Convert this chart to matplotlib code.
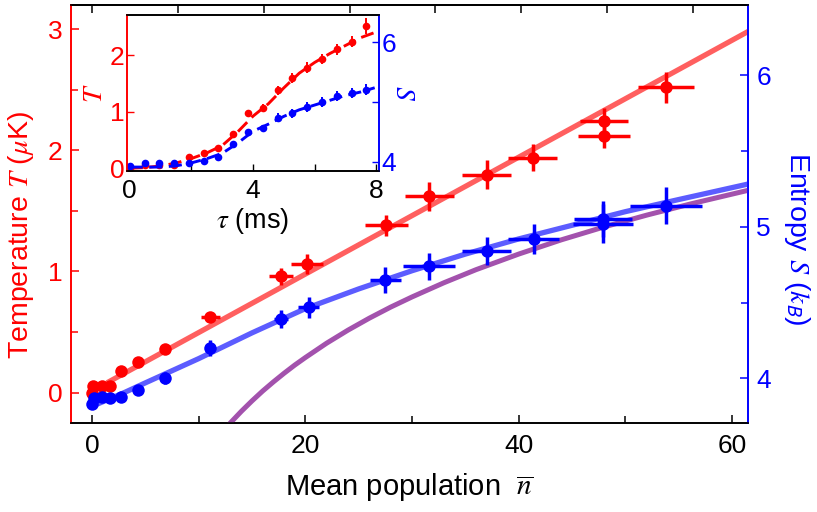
import matplotlib
matplotlib.use("Agg")
import matplotlib.pyplot as plt
from matplotlib.ticker import MultipleLocator, NullFormatter

plt.rcParams["font.family"] = ["Liberation Sans", "DejaVu Sans"]
plt.rcParams["mathtext.fontset"] = "stix"

RED = "#ff0000"
BLUE = "#0000ff"
RED_FIT = "#ff5f5f"
BLUE_FIT = "#5c5cff"
PURPLE = "#a352ad"

# --- main panel: temperature vs mean population ---
n_T = [0.0, 0.1, 0.9, 1.7, 2.7, 4.3, 6.8, 11.1, 17.7, 20.2, 27.6, 31.6, 37.0, 41.3, 48.0, 48.0, 53.8]
T = [0.0, 0.05, 0.05, 0.05, 0.18, 0.25, 0.36, 0.62, 0.96, 1.06, 1.38, 1.62, 1.80, 1.94, 2.12, 2.24, 2.52]
n_T_err = [0.1, 0.1, 0.1, 0.15, 0.2, 0.3, 0.4, 0.9, 1.15, 1.5, 2.0, 2.3, 2.3, 2.3, 2.4, 2.25, 2.6]
T_err = [0.02, 0.02, 0.02, 0.02, 0.02, 0.03, 0.03, 0.03, 0.07, 0.08, 0.09, 0.12, 0.12, 0.11, 0.1, 0.11, 0.13]

# --- main panel: entropy vs mean population ---
n_S = [0.0, 0.2, 0.9, 1.7, 2.7, 4.3, 6.8, 11.1, 17.7, 20.3, 27.5, 31.6, 37.0, 41.4, 47.9, 47.9, 53.8]
S = [3.83, 3.87, 3.88, 3.87, 3.88, 3.92, 4.00, 4.20, 4.39, 4.47, 4.65, 4.74, 4.84, 4.92, 5.02, 5.05, 5.14]
n_S_err = [0.1, 0.1, 0.1, 0.15, 0.2, 0.3, 0.4, 0.3, 0.65, 1.0, 1.45, 2.4, 2.3, 2.4, 2.8, 2.7, 3.4]
S_err = [0.03, 0.03, 0.03, 0.03, 0.03, 0.03, 0.04, 0.055, 0.06, 0.07, 0.086, 0.09, 0.09, 0.1, 0.13, 0.12, 0.12]

# fit curves
T_fit_n = [1.4, 62.0]
T_fit = [0.08, 3.005]
S_fit_n = [0.5, 3, 5, 7.5, 10, 12.5, 15, 17.5, 20, 22.5, 25, 27.5, 30, 35, 40, 45, 50, 55, 62]
S_fit = [3.83, 3.905, 3.97, 4.05, 4.13, 4.215, 4.30, 4.38, 4.46, 4.525, 4.59, 4.65, 4.71, 4.82, 4.92, 5.01, 5.10, 5.18, 5.29]
S_th_n = [12.5, 13, 14, 15, 16, 17, 18, 19, 20, 22, 24, 26, 28, 30, 33, 36, 40, 44, 48, 52, 56, 62]
S_th = [3.668, 3.708, 3.782, 3.851, 3.916, 3.976, 4.033, 4.087, 4.137, 4.232, 4.318, 4.397,
        4.470, 4.537, 4.631, 4.717, 4.820, 4.914, 4.999, 5.077, 5.149, 5.249]

# --- inset: T and S vs hold time tau ---
tau = [0.0, 0.48, 0.96, 1.44, 1.92, 2.40, 2.88, 3.36, 3.84, 4.32, 4.80, 5.28, 5.76, 6.24, 6.72, 7.20, 7.68]
T_in = [0.01, 0.05, 0.05, 0.05, 0.20, 0.27, 0.36, 0.61, 0.97, 1.07, 1.38, 1.59, 1.78, 1.93, 2.10, 2.24, 2.51]
T_in_err = [0.02, 0.02, 0.02, 0.02, 0.03, 0.04, 0.04, 0.05, 0.06, 0.07, 0.08, 0.09, 0.09, 0.09, 0.09, 0.1, 0.14]
S_in = [3.92, 3.97, 3.97, 3.97, 3.97, 4.02, 4.08, 4.29, 4.49, 4.56, 4.74, 4.81, 4.92, 5.00, 5.10, 5.15, 5.21]
S_in_err = [0.02, 0.02, 0.02, 0.02, 0.03, 0.04, 0.05, 0.05, 0.06, 0.06, 0.07, 0.08, 0.08, 0.08, 0.08, 0.09, 0.09]

tau_fit = [0.0, 0.5, 1.0, 1.5, 2.0, 2.5, 3.0, 3.5, 4.0, 4.5, 5.0, 5.5, 6.0, 6.5, 7.0, 7.5, 8.1]
T_in_fit = [0.0, 0.01, 0.04, 0.09, 0.17, 0.27, 0.40, 0.64, 0.92, 1.14, 1.42, 1.68, 1.87, 2.03, 2.17, 2.31, 2.43]
tau_fit_S = [0.0, 0.5, 1.0, 1.5, 2.0, 2.5, 3.0, 3.5, 4.0, 4.5, 5.0, 5.5, 6.0, 6.5, 7.0, 7.5, 7.95]
S_in_fit = [3.91, 3.91, 3.91, 3.93, 3.98, 4.05, 4.14, 4.31, 4.51, 4.63, 4.76, 4.87, 4.95, 5.03, 5.11, 5.17, 5.24]

TOP_TICKS = [0, 8.05, 16.1, 24.15, 32.2, 40.25, 48.3, 56.35]

fig = plt.figure(figsize=(8.17, 5.12), dpi=100)
ax = fig.add_axes([0.0869, 0.1738, 0.8286, 0.8164])
ax2 = ax.twinx()

ax.plot(T_fit_n, T_fit, color=RED_FIT, lw=3.8, solid_capstyle="butt", zorder=1)
ax.errorbar(n_T, T, xerr=n_T_err, yerr=T_err, fmt="o", color=RED, ms=9,
            mec="none", elinewidth=2.5, capsize=0, zorder=2)

ax2.plot(S_th_n, S_th, color=PURPLE, lw=3.6, zorder=1)
ax2.plot(S_fit_n, S_fit, color=BLUE_FIT, lw=3.8, zorder=1)
ax2.errorbar(n_S, S, xerr=n_S_err, yerr=S_err, fmt="o", color=BLUE, ms=9,
             mec="none", elinewidth=2.5, capsize=0, zorder=2)

ax.set_xlim(-1.97, 61.5)
ax.set_ylim(-0.252, 3.20)
ax2.set_ylim(3.705, 6.464)

ax.xaxis.set_major_locator(MultipleLocator(20))
ax.xaxis.set_minor_locator(MultipleLocator(10))
ax.yaxis.set_major_locator(MultipleLocator(1))
ax.yaxis.set_minor_locator(MultipleLocator(0.5))
ax2.yaxis.set_major_locator(MultipleLocator(1))
ax2.yaxis.set_minor_locator(MultipleLocator(0.5))

for a in (ax, ax2):
    for s in a.spines.values():
        s.set_linewidth(1.2)
    a.spines["left"].set_color(RED)
    a.spines["right"].set_color(BLUE)

ax.tick_params(axis="x", which="both", direction="in", labelsize=19, width=1.1, pad=8)
ax.tick_params(axis="x", which="major", length=6)
ax.tick_params(axis="x", which="minor", length=5)
ax.tick_params(axis="y", which="both", direction="in", colors=RED, labelsize=19, width=1.1, pad=6)
ax.tick_params(axis="y", which="major", length=6)
ax.tick_params(axis="y", which="minor", length=5)
ax2.tick_params(axis="y", which="both", direction="in", colors=BLUE, labelsize=19, width=1.1, pad=6)
ax2.tick_params(axis="y", which="major", length=6)
ax2.tick_params(axis="y", which="minor", length=5)

top = ax.secondary_xaxis("top")
top.set_xticks(TOP_TICKS)
top.xaxis.set_major_formatter(NullFormatter())
top.tick_params(direction="in", length=6, width=1.1)
top.spines["top"].set_linewidth(1.2)

ax.set_xlabel(r"Mean population  $\overline{n}$", fontsize=21, labelpad=9)
ax.set_ylabel(r"Temperature $T$ ($\mu$K)", fontsize=20.5, color=RED)
ax2.set_ylabel(r"Entropy $S$ ($k_\mathsf{B}$)", fontsize=20.5, color=BLUE, rotation=270)
ax.yaxis.set_label_coords(-0.052, 0.45)
ax2.yaxis.set_label_coords(1.094, 0.44)

# inset
ins = fig.add_axes([0.1554, 0.666, 0.3085, 0.3047])
ins2 = ins.twinx()
ins.plot(tau_fit, T_in_fit, color=RED, lw=2.1, dashes=(4.5, 2.2), zorder=1)
ins.errorbar(tau, T_in, yerr=T_in_err, fmt="o", color=RED, ms=5.5, mec="none",
             elinewidth=1.4, capsize=0, zorder=2)
ins2.plot(tau_fit_S, S_in_fit, color=BLUE, lw=2.1, dashes=(4.5, 2.2), zorder=1)
ins2.errorbar(tau, S_in, yerr=S_in_err, fmt="o", color=BLUE, ms=5.5, mec="none",
              elinewidth=1.4, capsize=0, zorder=2)

ins.set_xlim(-0.09, 8.09)
ins.set_ylim(-0.05, 2.71)
ins2.set_ylim(3.844, 6.46)
ins.xaxis.set_major_locator(MultipleLocator(4))
ins.xaxis.set_minor_locator(MultipleLocator(2))
ins.yaxis.set_major_locator(MultipleLocator(1))
ins2.set_yticks([4, 6])
ins2.yaxis.set_minor_locator(MultipleLocator(1))

for a in (ins, ins2):
    for s in a.spines.values():
        s.set_linewidth(1.2)
    a.spines["left"].set_color(RED)
    a.spines["right"].set_color(BLUE)

ins.tick_params(axis="x", which="both", direction="in", labelsize=19, width=1.0, pad=6)
ins.tick_params(axis="x", which="major", length=5)
ins.tick_params(axis="x", which="minor", length=5)
ins.tick_params(axis="y", direction="in", colors=RED, labelsize=19, length=5, width=1.0, pad=2)
ins2.tick_params(axis="y", which="both", direction="in", colors=BLUE, labelsize=19, length=5, width=1.0, pad=2)

ins.set_xlabel(r"$\tau$ (ms)", fontsize=19.5, labelpad=2)
ins.set_ylabel(r"$T$", fontsize=20, color=RED, labelpad=1)
ins2.set_ylabel(r"$S$", fontsize=20, color=BLUE, rotation=270, labelpad=14)

fig.savefig("out.png", dpi=100)
